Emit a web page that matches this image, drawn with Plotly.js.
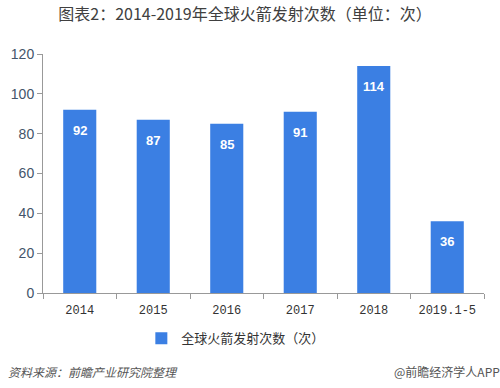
<!DOCTYPE html>
<html><head><meta charset="utf-8">
<script src="https://cdn.plot.ly/plotly-3.0.1.min.js"></script>
<style>body{margin:0;background:#fff}#c{width:500px;height:388px}</style>
</head><body><div id="c"></div>
<script>
const categories = ["2014","2015","2016","2017","2018","2019.1-5"];
const launches = [92, 87, 85, 91, 114, 36];
const seriesName = "全球火箭发射次数（次）";
const titleText = "图表2：2014-2019年全球火箭发射次数（单位：次）";
const sourceText = "资料来源：前瞻产业研究院整理";
const brandText = "@前瞻经济学人APP";

const barColor = "#3b7fe3";
const annotations = categories.map((c, i) => ({
  x: i, y: launches[i], xref: "x", yref: "y",
  text: "<b>" + launches[i] + "</b>", showarrow: false,
  yanchor: "top", yshift: -11,
  font: {family: "Liberation Sans, Arial, sans-serif", size: 13, color: "#ffffff"}
}));
annotations.push({
  xref: "paper", yref: "paper", x: -0.085, y: -0.33, xanchor: "left", yanchor: "middle",
  text: "<i>" + sourceText + "</i>", showarrow: false,
  font: {family: "Noto Sans CJK SC", size: 12, color: "#555"}
});
annotations.push({
  xref: "paper", yref: "paper", x: 1.04, y: -0.33, xanchor: "right", yanchor: "middle",
  text: brandText, showarrow: false,
  font: {family: "Noto Sans CJK SC", size: 12, color: "#555"}
});

Plotly.newPlot("c", [{
  type: "bar", x: categories, y: launches, name: seriesName,
  marker: {color: barColor}, showlegend: true
}], {
  width: 500, height: 388,
  margin: {l: 43, r: 16, t: 54, b: 95},
  paper_bgcolor: "#fff", plot_bgcolor: "#fff",
  bargap: 0.55,
  title: {text: titleText, x: 0.49, xanchor: "center", y: 0.962, yanchor: "middle",
    font: {family: "Noto Sans CJK SC", size: 16, color: "#404040"}},
  xaxis: {
    type: "category", range: [-0.5, categories.length - 0.5], autorange: false,
    showline: true, linecolor: "#999", linewidth: 1,
    ticks: "outside", tickson: "boundaries", ticklen: 5, tickcolor: "#999", tickangle: 0,
    ticklabelstandoff: 6,
    tickfont: {family: "Liberation Mono, DejaVu Sans Mono, monospace", size: 12, color: "#333"},
    showgrid: false
  },
  yaxis: {
    range: [0, 120], autorange: false, dtick: 20, showline: true, linecolor: "#999", linewidth: 1,
    ticks: "outside", ticklen: 5, tickcolor: "#999", showgrid: false, zeroline: false,
    tickfont: {family: "Liberation Sans, Arial, sans-serif", size: 14, color: "#44546a"}
  },
  legend: {orientation: "h", x: 0.223, xanchor: "left", y: -0.19, yanchor: "middle",
    itemwidth: 30,
    font: {family: "Noto Sans CJK SC", size: 13, color: "#333"}},
  annotations: annotations
}, {displayModeBar: false, staticPlot: true});
</script></body></html>
